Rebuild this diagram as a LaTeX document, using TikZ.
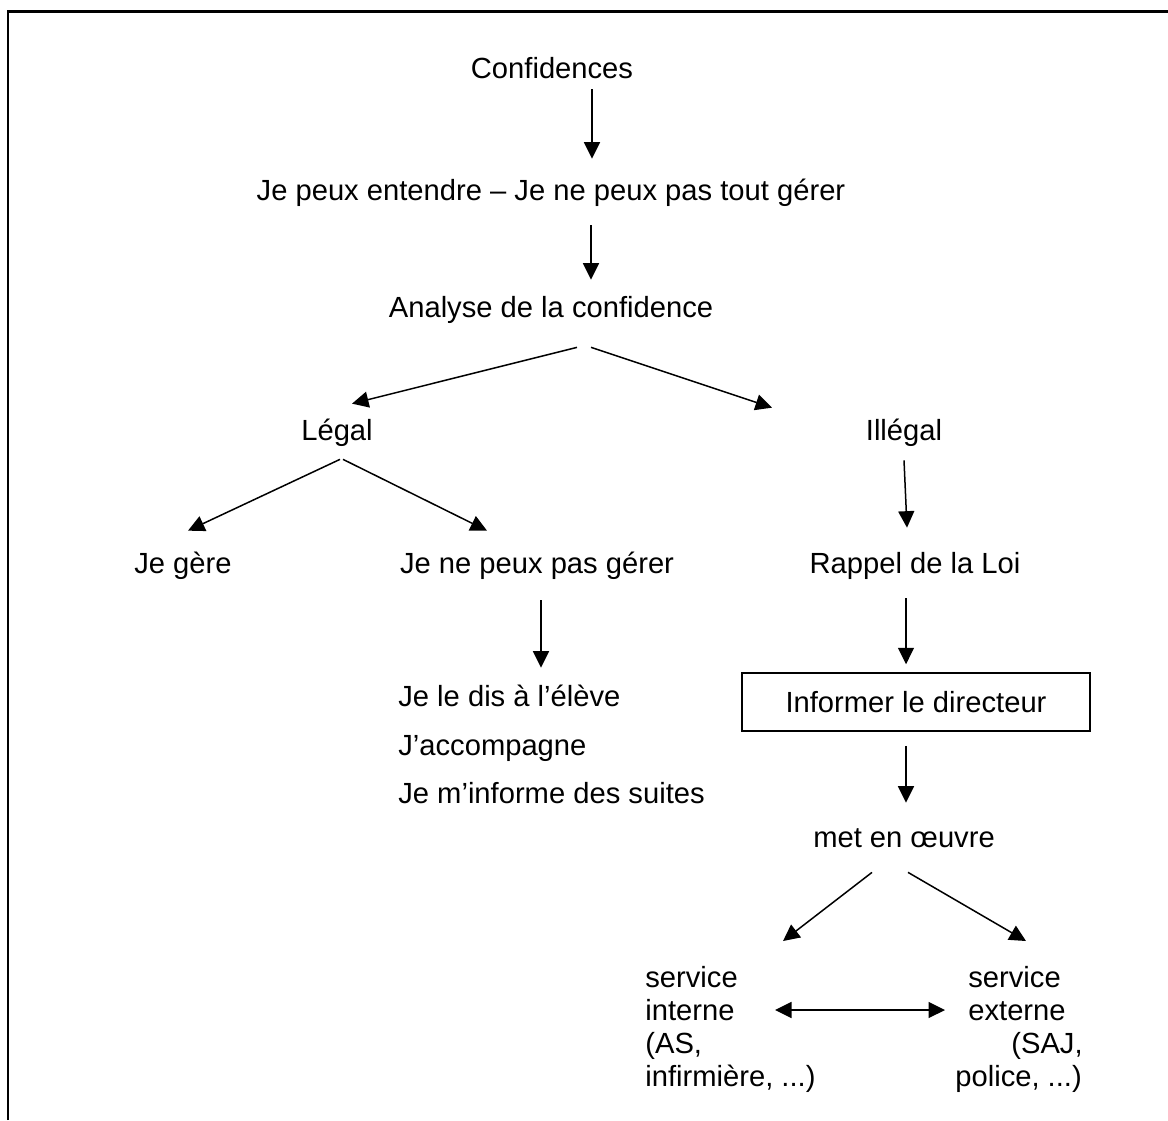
\documentclass[tikz,border=0pt]{standalone}
\usepackage{fontspec}
\setmainfont{Liberation Sans}
\usetikzlibrary{arrows.meta,calc}

\tikzset{
  txt/.style={inner sep=0pt, text height=0.48cm, text depth=0.06cm,
    font=\fontsize{16.6}{19}\selectfont},
  multi/.style={inner sep=0pt, align=left,
    font=\fontsize{16.6}{18.8}\selectfont},
  arr/.style={-{Triangle[length=0.33cm,width=0.32cm]}, line width=0.03cm},
  twoarr/.style={{Triangle[length=0.33cm,width=0.32cm]}-{Triangle[length=0.33cm,width=0.32cm]}, line width=0.03cm}
}

\begin{document}
\begin{tikzpicture}[x=0.02cm, y=-0.02cm]
  \useasboundingbox (0,0) rectangle (1168,1120);

  % frame (only top and left edges show)
  \draw[line width=0.06cm] (8,1120) -- (8,11) -- (1168,11);

  % main column
  \node[txt] (conf) at (552,68) {Confidences};
  \node[txt] (ent) at (551,190) {Je peux entendre – Je ne peux pas tout gérer};
  \node[txt] (ana) at (551,307) {Analyse de la confidence};

  % two branches
  \node[txt] (legal) at (337,430) {Légal};
  \node[txt] (illegal) at (904,430) {Illégal};

  % legal side
  \node[txt] (gere) at (183,563) {Je gère};
  \node[txt] (nopeux) at (537,563) {Je ne peux pas gérer};
  \node[txt, anchor=west] (dis) at (398,696) {Je le dis à l’élève};
  \node[txt, anchor=west] (accomp) at (398,745) {J’accompagne};
  \node[txt, anchor=west] (suites) at (398,793) {Je m’informe des suites};

  % illegal side
  \node[txt] (rappel) at (915,563) {Rappel de la Loi};
  \node[txt, draw, line width=0.03cm, minimum width=6.96cm,
    minimum height=1.16cm] (dir) at (916,702) {Informer le directeur};
  \node[txt] (oeuvre) at (904,837) {met en œuvre};
  \node[multi, anchor=north west] (interne) at (645,966)
    {service\\interne\\(AS,\\infirmière, ...)};
  \node[multi, anchor=north west] (externe) at (955,966)
    {\hspace*{0.26cm}service\\\hspace*{0.26cm}externe\\\hspace*{1.12cm}(SAJ,\\police, ...)};

  % arrows down the middle
  \draw[arr] ($(conf.south)+(40,7.5)$) -- ($(ent.north)+(41,-17.5)$);
  \draw[arr] ($(ent.south)+(40,21.5)$) -- ($(ana.north)+(40,-13.5)$);
  \draw[arr] ($(ana.south)+(26,26.5)$) -- ($(legal.north)+(15,-12.5)$);
  \draw[arr] ($(ana.south)+(40,26.5)$) -- ($(illegal.north)+(-132,-8.5)$);

  % arrows under Legal
  \draw[arr] ($(legal.south)+(3,15.5)$) -- ($(gere.north)+(5,-18.5)$);
  \draw[arr] ($(legal.south)+(6,15.5)$) -- ($(nopeux.north)+(-50,-18.5)$);
  \draw[arr] ($(nopeux.south)+(4,23.5)$) -- ($(dis.north west)+(143,-14.5)$);

  % arrows under Illegal
  \draw[arr] ($(illegal.south)+(0,16.5)$) -- ($(rappel.north)+(-8,-21.5)$);
  \draw[arr] ($(rappel.south)+(-9,21.5)$) -- ($(dir.north)+(-10,-8)$);
  \draw[arr] ($(dir.south)+(-10,14)$) -- ($(oeuvre.north)+(2,-20.5)$);
  \draw[arr] ($(oeuvre.south)+(-32,21.5)$) -- ($(interne.north west)+(138,-25)$);
  \draw[arr] ($(oeuvre.south)+(4,21.5)$) -- ($(externe.north east)+(-57,-25)$);
  \draw[twoarr] ($(interne.north west)+(130,44)$) -- ($(externe.north west)+(-10,44)$);

\end{tikzpicture}
\end{document}
